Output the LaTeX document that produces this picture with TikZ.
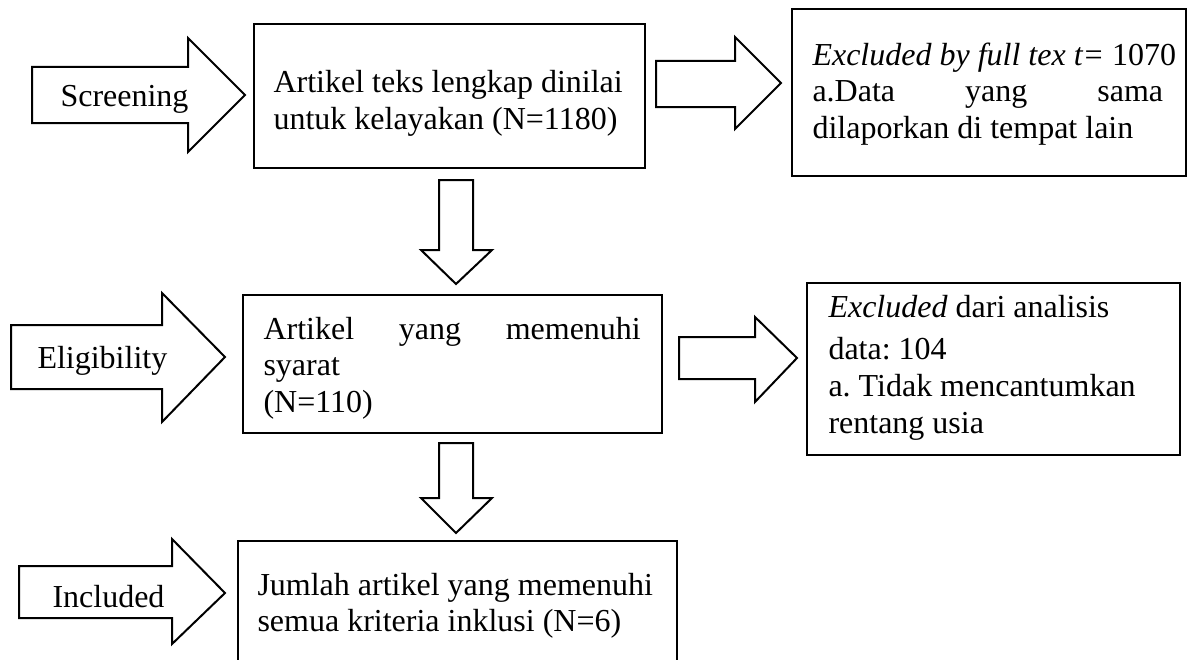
\documentclass[tikz,border=0pt]{standalone}
\usepackage{fontspec}
\setmainfont{Liberation Serif}
\usepackage{tikz}
\tikzset{every picture/.style={line width=0.75pt}}
\tikzset{txt/.style={inner sep=0pt, anchor=base west, font=\fontsize{24}{27.5}\selectfont,
		execute at begin node={\spaceskip=0pt\xspaceskip=0pt\frenchspacing}}}

\begin{document}
\begin{tikzpicture}[x=0.75pt,y=0.75pt,yscale=-1,xscale=1]
		\useasboundingbox (0,0) rectangle (1188,660);
		
		%Right Arrow [id:dp2281937460152] 
		\draw [line width=1.5]   (32,67) -- (188,67) -- (188,38) -- (245,95) -- (188,152) -- (188,123) -- (32,123) -- cycle ;
		%Right Arrow [id:dp7713590241186] 
		\draw [line width=1.5]   (11,325) -- (162,325) -- (162,293) -- (225,357) -- (162,422) -- (162,389) -- (11,389) -- cycle ;
		%Right Arrow [id:dp5520813947712] 
		\draw [line width=1.5]   (19,566) -- (172,566) -- (172,539) -- (225,593) -- (172,644) -- (172,618) -- (19,618) -- cycle ;
		
		%Shape: Rectangle [id:dp0934716285519] 
		\draw [line width=1.5]   (254,24) -- (645,24) -- (645,168) -- (254,168) -- cycle ;
		%Shape: Rectangle [id:dp6120495831827] 
		\draw [line width=1.5]   (792,9) -- (1186,9) -- (1186,176) -- (792,176) -- cycle ;
		%Shape: Rectangle [id:dp3418827760392] 
		\draw [line width=1.5]   (243,295) -- (662,295) -- (662,433) -- (243,433) -- cycle ;
		%Shape: Rectangle [id:dp8857102643159] 
		\draw [line width=1.5]   (807,283) -- (1180,283) -- (1180,455) -- (807,455) -- cycle ;
		%Shape: Rectangle [id:dp4496320178523] 
		\draw [line width=1.5]   (238,541) -- (677,541) -- (677,670) -- (238,670) -- cycle ;
		
		%Right Arrow [id:dp1650298437721] 
		\draw [line width=1.5]   (656,61) -- (735,61) -- (735,37) -- (781,83) -- (735,129) -- (735,107) -- (656,107) -- cycle ;
		%Right Arrow [id:dp9072264318845] 
		\draw [line width=1.5]   (679,337) -- (755,337) -- (755,317) -- (797,358) -- (755,402) -- (755,379) -- (679,379) -- cycle ;
		%Down Arrow [id:dp3390718425506] 
		\draw [line width=1.5]   (439,180) -- (473,180) -- (473,250) -- (492,250) -- (456,284) -- (421,250) -- (439,250) -- cycle ;
		%Down Arrow [id:dp6204987711934] 
		\draw [line width=1.5]   (439,443) -- (473,443) -- (473,498) -- (492,498) -- (456,533) -- (421,498) -- (439,498) -- cycle ;
		
		% Text Node
		\node [txt] (screening) at (60,107) {Screening};
		% Text Node
		\node [txt] (eligibility) at (37,368) {Eligibility};
		% Text Node
		\node [txt] (included) at (52,607) {Included};
		% Text Node
		\node [txt, text width=330pt, align=left] (fulltext) at (273,93) {Artikel teks lengkap dinilai\\untuk kelayakan (N=1180)};
		% Text Node
		\node [txt, text width=330pt, align=left] (excl1) at (812,65) {\textit{Excluded by full tex t=} 1070\\\makebox[263pt][l]{a.Data\hfill yang\hfill sama}\\dilaporkan di tempat lain};
		% Text Node
		\node [txt, text width=283pt, align=left] (eligible) at (263,339) {Artikel\hfill yang\hfill memenuhi\\syarat\\(N=110)};
		% Text Node
		\node [txt, text width=330pt, align=left] (excl2) at (828,317) {\textit{Excluded} dari analisis\\[4.5pt]data: 104\\a. Tidak mencantumkan\\rentang usia};
		% Text Node
		\node [txt, text width=330pt, align=left] (final) at (257,595) {Jumlah artikel yang memenuhi\\semua kriteria inklusi (N=6)};
		
		\end{tikzpicture}
\end{document}
